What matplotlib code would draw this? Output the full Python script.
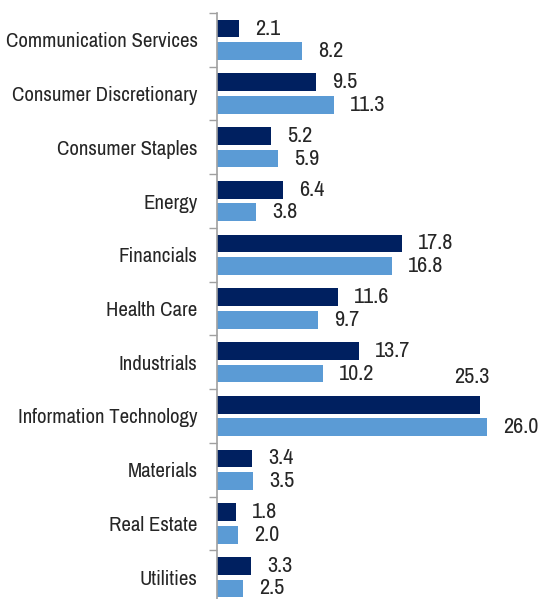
import numpy as np
import matplotlib.pyplot as plt
from matplotlib.ticker import FixedLocator

plt.rcParams['font.family'] = ['Archivo Narrow', 'DejaVu Sans']

sectors = ["Communication Services", "Consumer Discretionary", "Consumer Staples",
           "Energy", "Financials", "Health Care", "Industrials",
           "Information Technology", "Materials", "Real Estate", "Utilities"]
dark_vals = [2.1, 9.5, 5.2, 6.4, 17.8, 11.6, 13.7, 25.3, 3.4, 1.8, 3.3]
light_vals = [8.2, 11.3, 5.9, 3.8, 16.8, 9.7, 10.2, 26.0, 3.5, 2.0, 2.5]

dark_color = "#002060"
light_color = "#5b9bd5"
text_color = "#262626"
fs = 15
vfs = 16

fig = plt.figure(figsize=(5.38, 5.99), dpi=100)
ax = fig.add_axes([217 / 538, -5 / 599, 1 - 217 / 538, 1 - 13 / 599 + 5 / 599])

y = np.arange(len(sectors))
bh = 0.33
off = 0.21

ax.barh(y - off, dark_vals, height=bh, color=dark_color)
ax.barh(y + off, light_vals, height=bh, color=light_color)

# value labels
for i, v in enumerate(dark_vals):
    if v == max(dark_vals):
        # the largest dark label sits above the bar
        ax.annotate(f"{v:.1f}", (v, i - off), xytext=(7, 20), textcoords="offset points",
                    ha="right", va="center", fontsize=vfs, color=text_color)
    else:
        ax.annotate(f"{v:.1f}", (v, i - off), xytext=(11.5, 0), textcoords="offset points",
                    ha="left", va="center", fontsize=vfs, color=text_color)
for i, v in enumerate(light_vals):
    ax.annotate(f"{v:.1f}", (v, i + off), xytext=(11.5, 0), textcoords="offset points",
                ha="left", va="center", fontsize=vfs, color=text_color)

ax.set_xlim(0, 30.9)
ax.set_ylim(len(sectors) - 0.5, -0.5)

ax.set_yticks(y)
ax.set_yticklabels(sectors, fontsize=fs, color=text_color)
ax.tick_params(axis="y", which="major", length=0, pad=14)
ax.yaxis.set_minor_locator(FixedLocator(np.arange(len(sectors)) - 0.5))
ax.tick_params(axis="y", which="minor", length=6, width=1, color="#a0a0a0")
ax.set_xticks([])

for s in ["top", "right", "bottom"]:
    ax.spines[s].set_visible(False)
ax.spines["left"].set_color("#a0a0a0")
ax.spines["left"].set_linewidth(1.2)

fig.savefig("out.png", dpi=100)
